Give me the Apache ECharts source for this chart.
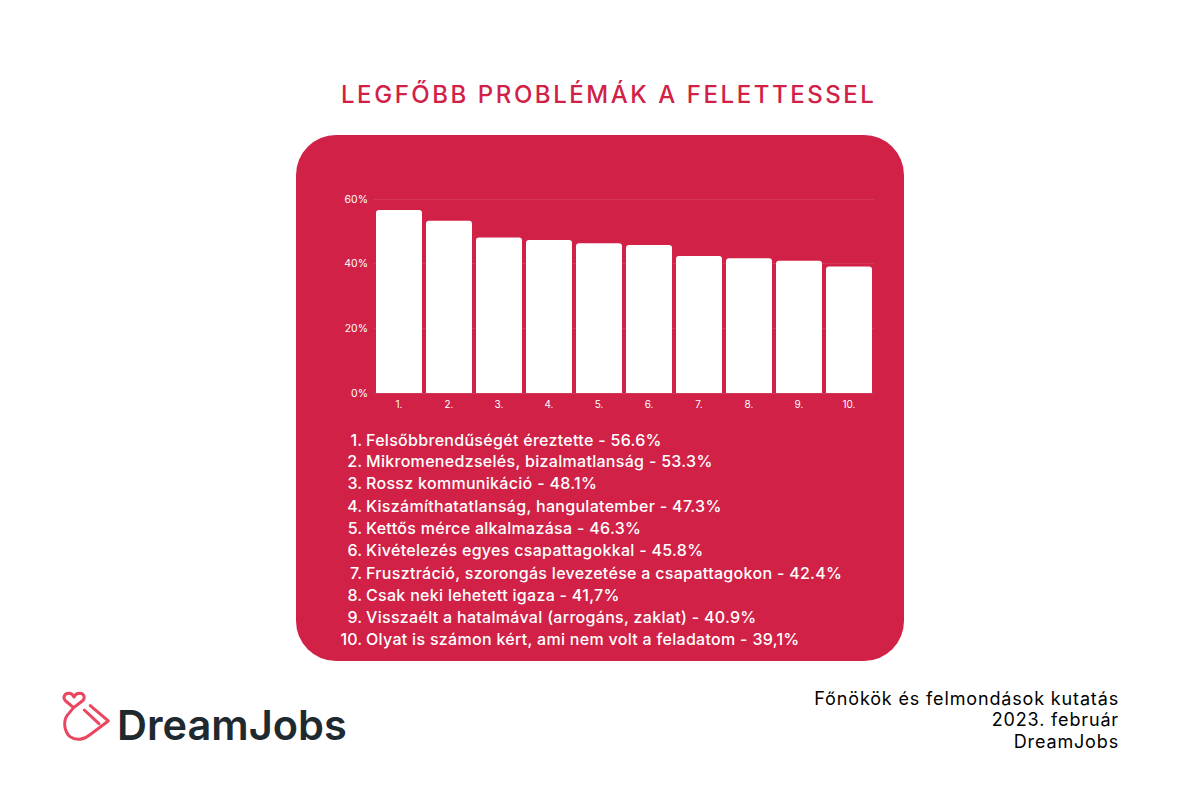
<!DOCTYPE html>
<html>
<head>
<meta charset="UTF-8">
<style>
html,body{margin:0;padding:0;background:#fff;}
#chart{width:1200px;height:800px;}
</style>
<script src="https://cdn.jsdelivr.net/npm/echarts@6/dist/echarts.min.js"></script>
</head>
<body>
<div id="chart"></div>
<script>
var titleText = 'LEGFŐBB PROBLÉMÁK A FELETTESSEL';
var categories = ['1.','2.','3.','4.','5.','6.','7.','8.','9.','10.'];
var values = [56.6,53.3,48.1,47.3,46.3,45.8,42.4,41.7,40.9,39.1];
var listItems = [
  'Felsőbbrendűségét éreztette - 56.6%',
  'Mikromenedzselés, bizalmatlanság - 53.3%',
  'Rossz kommunikáció - 48.1%',
  'Kiszámíthatatlanság, hangulatember - 47.3%',
  'Kettős mérce alkalmazása - 46.3%',
  'Kivételezés egyes csapattagokkal - 45.8%',
  'Frusztráció, szorongás levezetése a csapattagokon - 42.4%',
  'Csak neki lehetett igaza - 41,7%',
  'Visszaélt a hatalmával (arrogáns, zaklat) - 40.9%',
  'Olyat is számon kért, ami nem volt a feladatom - 39,1%'
];
var sourceLines = ['Főnökök és felmondások kutatás','2023. február','DreamJobs'];
var logoText = 'DreamJobs';

var RED = '#d12147';
var FONT = 'Inter';

// logo mark, graphic component has no plain path type
echarts.graphic.registerShape('logoMark', echarts.graphic.extendPath(
  'M56,68 L32,48 C22,38 28,25 42,25 C50,25 55,32 57,36 C59,32 64,25 74,25 C88,25 92,40 82,48 L56,68 L36,92 C24,110 28,140 45,155 C62,168 88,165 104,150 L160,108 L106,62 M88,75 L132,116',
  {}
));

var graphics = [
  {type:'rect', z:-1, shape:{x:296,y:135,width:608,height:526,r:40}, style:{fill:RED}}
];

// numbered list under the chart
var listY = [440,461,483,506,528,550,573,595,617,639];
listItems.forEach(function(item,i){
  graphics.push({type:'text', x:362, y:listY[i], style:{text:categories[i], fill:'#fff', font:'500 16px '+FONT, textAlign:'right', textVerticalAlign:'middle'}});
  graphics.push({type:'text', x:366, y:listY[i], style:{text:item, fill:'#fff', font:'500 16px '+FONT, textAlign:'left', textVerticalAlign:'middle'}});
});

// source note, bottom right
var sourceY = [698,719,741];
sourceLines.forEach(function(line,i){
  graphics.push({type:'text', x:1119, y:sourceY[i], style:{text:line, fill:'#000', font:'400 18px '+FONT, textAlign:'right', textVerticalAlign:'middle'}});
});

// logo
graphics.push({type:'text', x:117, y:725, style:{text:logoText, fill:'#1f2a30', font:'600 41.5px '+FONT, textAlign:'left', textVerticalAlign:'middle'}});
graphics.push({
  type:'logoMark', x:55, y:685, scaleX:1/3, scaleY:1/3,
  style:{fill:null, stroke:'#e8475f', lineWidth:9, lineJoin:'round', lineCap:'round'}
});

var chart = echarts.init(document.getElementById('chart'), null, {renderer:'svg'});
chart.setOption({
  animation:false,
  title:{text:titleText, left:336, top:77, textStyle:{color:RED, fontFamily:FONT, fontWeight:500, fontSize:24}},
  grid:{left:374, top:199, width:500, height:194},
  xAxis:{
    type:'category', data:categories,
    axisLine:{show:false}, axisTick:{show:false},
    axisLabel:{color:'#fff', fontFamily:FONT, fontSize:10, margin:6}
  },
  yAxis:{
    type:'value', min:0, max:60, interval:20,
    axisLabel:{color:'#fff', fontFamily:FONT, fontSize:10.5, formatter:'{value}%', margin:6},
    splitLine:{lineStyle:{color:'rgba(255,255,255,0.1)', width:1}},
    axisLine:{show:false}, axisTick:{show:false}
  },
  series:[{
    type:'bar', data:values, barWidth:46,
    itemStyle:{color:'#fff', borderRadius:[3,3,0,0]}
  }],
  graphic:graphics
});

// original font is wider, add tracking on the svg text
document.querySelectorAll('#chart svg text').forEach(function(t){
  var s = t.textContent;
  var size = parseFloat(getComputedStyle(t).fontSize);
  if(s === titleText) t.style.letterSpacing = '2.55px';
  else if(listItems.indexOf(s) >= 0) t.style.letterSpacing = '0.3px';
  else if(sourceLines.indexOf(s) >= 0 && size < 30) t.style.letterSpacing = '0.85px';
});
</script>
</body>
</html>
